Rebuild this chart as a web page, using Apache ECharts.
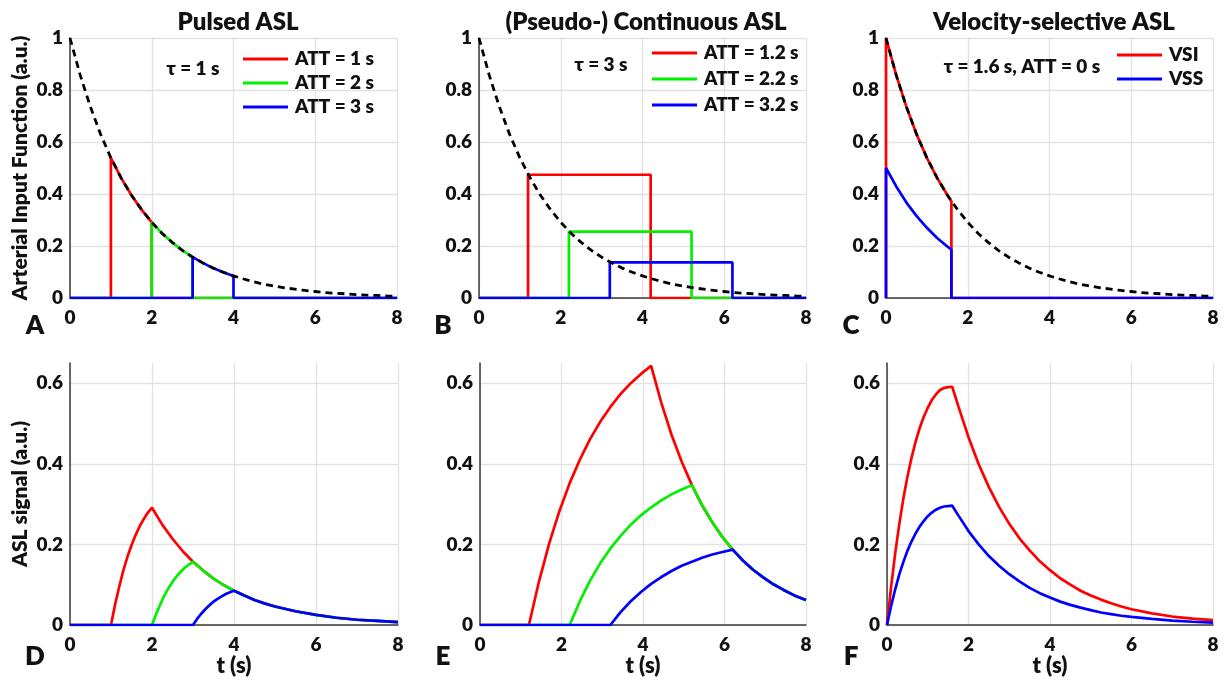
<!DOCTYPE html>
<html>
<head>
<meta charset="utf-8">
<script src="https://cdn.jsdelivr.net/npm/echarts@6/dist/echarts.min.js"></script>
<style>html,body{margin:0;padding:0;background:#fff}#c{width:1224px;height:682px}</style>
</head>
<body>
<div id="c"></div>
<script>
// ---- Data ----
const panelTitles = ['Pulsed ASL', '(Pseudo-) Continuous ASL', 'Velocity-selective ASL'];
const panelLetters = ['A', 'B', 'C', 'D', 'E', 'F'];
const xTicks = [0, 2, 4, 6, 8];
const legendPulsed = ['ATT = 1 s', 'ATT = 2 s', 'ATT = 3 s'];
const legendPcasl = ['ATT = 1.2 s', 'ATT = 2.2 s', 'ATT = 3.2 s'];
const legendVs = ['VSI', 'VSS'];
const notes = ['τ = 1 s', 'τ = 3 s', 'τ = 1.6 s, ATT = 0 s'];

// arterial input function (dashed black), t (s), value
const aifCurve = [[0,1],[0.25,0.857],[0.5,0.735],[0.75,0.629],[1,0.539],[1.25,0.462],[1.5,0.396],[1.75,0.340],[2,0.291],[2.25,0.249],[2.5,0.214],[2.75,0.183],[3,0.157],[3.25,0.135],[3.5,0.115],[3.75,0.099],[4,0.085],[4.25,0.073],[4.5,0.062],[4.75,0.053],[5,0.046],[5.25,0.039],[5.5,0.034],[5.75,0.029],[6,0.025],[6.25,0.021],[6.5,0.018],[6.75,0.016],[7,0.013],[7.25,0.011],[7.5,0.010],[7.75,0.008],[8,0.007]];

// top row: input functions
const pulsedAif1 = [[0,0],[1,0],[1,0.539],[1.25,0.462],[1.5,0.396],[1.75,0.340],[2,0.291],[2,0],[8,0]];
const pulsedAif2 = [[0,0],[2,0],[2,0.291],[2.25,0.249],[2.5,0.214],[2.75,0.183],[3,0.157],[3,0],[8,0]];
const pulsedAif3 = [[0,0],[3,0],[3,0.157],[3.25,0.135],[3.5,0.115],[3.75,0.099],[4,0.085],[4,0],[8,0]];
const pcaslAif1 = [[0,0],[1.2,0],[1.2,0.474],[4.2,0.474],[4.2,0],[8,0]];
const pcaslAif2 = [[0,0],[2.2,0],[2.2,0.255],[5.2,0.255],[5.2,0],[8,0]];
const pcaslAif3 = [[0,0],[3.2,0],[3.2,0.137],[6.2,0.137],[6.2,0],[8,0]];
const vsiAif = [[0,0],[0,1],[0.25,0.857],[0.5,0.735],[0.75,0.629],[1,0.539],[1.25,0.462],[1.5,0.396],[1.6,0.372],[1.6,0],[8,0]];
const vssAif = [[0,0],[0,0.5],[0.25,0.429],[0.5,0.367],[0.75,0.315],[1,0.270],[1.25,0.231],[1.5,0.198],[1.6,0.186],[1.6,0],[8,0]];

// bottom row: ASL signals
const pulsedSig1 = [[0,0],[1,0],[1.1,0.051],[1.2,0.095],[1.3,0.135],[1.4,0.169],[1.5,0.198],[1.6,0.223],[1.7,0.245],[1.8,0.263],[1.9,0.279],[2,0.291],[2.25,0.249],[2.5,0.214],[2.75,0.183],[3,0.157],[3.25,0.135],[3.5,0.115],[3.75,0.099],[4,0.085],[4.5,0.062],[5,0.046],[5.5,0.034],[6,0.025],[6.5,0.018],[7,0.013],[7.5,0.010],[8,0.007]];
const pulsedSig2 = [[0,0],[2,0],[2.1,0.027],[2.2,0.051],[2.3,0.073],[2.4,0.091],[2.5,0.107],[2.6,0.121],[2.7,0.132],[2.8,0.142],[2.9,0.150],[3,0.157],[3.25,0.135],[3.5,0.115],[3.75,0.099],[4,0.085],[4.5,0.062],[5,0.046],[5.5,0.034],[6,0.025],[6.5,0.018],[7,0.013],[7.5,0.010],[8,0.007]];
const pulsedSig3 = [[0,0],[3,0],[3.1,0.015],[3.2,0.028],[3.3,0.039],[3.4,0.049],[3.5,0.058],[3.6,0.065],[3.7,0.071],[3.8,0.077],[3.9,0.081],[4,0.085],[4.25,0.073],[4.5,0.062],[4.75,0.053],[5,0.046],[5.5,0.034],[6,0.025],[6.5,0.018],[7,0.013],[7.5,0.010],[8,0.007]];
const pcaslSig1 = [[0,0],[1.2,0],[1.45,0.109],[1.7,0.203],[1.95,0.283],[2.2,0.352],[2.45,0.410],[2.7,0.461],[2.95,0.504],[3.2,0.541],[3.45,0.573],[3.7,0.600],[3.95,0.623],[4.2,0.643],[4.45,0.551],[4.7,0.472],[4.95,0.405],[5.2,0.347],[5.45,0.297],[5.7,0.255],[5.95,0.218],[6.2,0.187],[6.45,0.160],[6.7,0.137],[6.95,0.118],[7.2,0.101],[7.45,0.087],[7.7,0.074],[7.95,0.064],[8,0.062]];
const pcaslSig2 = [[0,0],[2.2,0],[2.45,0.059],[2.7,0.110],[2.95,0.153],[3.2,0.190],[3.45,0.221],[3.7,0.249],[3.95,0.272],[4.2,0.292],[4.45,0.309],[4.7,0.324],[4.95,0.336],[5.2,0.347],[5.45,0.297],[5.7,0.255],[5.95,0.218],[6.2,0.187],[6.45,0.160],[6.7,0.137],[6.95,0.118],[7.2,0.101],[7.45,0.087],[7.7,0.074],[7.95,0.064],[8,0.062]];
const pcaslSig3 = [[0,0],[3.2,0],[3.45,0.032],[3.7,0.059],[3.95,0.082],[4.2,0.102],[4.45,0.119],[4.7,0.134],[4.95,0.147],[5.2,0.157],[5.45,0.167],[5.7,0.175],[5.95,0.181],[6.2,0.187],[6.45,0.160],[6.7,0.137],[6.95,0.118],[7.2,0.101],[7.45,0.087],[7.7,0.074],[7.95,0.064],[8,0.062]];
const vsiSig = [[0,0],[0.1,0.094],[0.2,0.177],[0.3,0.249],[0.4,0.313],[0.5,0.367],[0.6,0.414],[0.7,0.454],[0.8,0.488],[0.9,0.516],[1,0.539],[1.1,0.558],[1.2,0.572],[1.3,0.583],[1.4,0.588],[1.5,0.590],[1.6,0.591],[1.75,0.543],[2,0.466],[2.25,0.399],[2.5,0.342],[2.75,0.293],[3,0.251],[3.25,0.215],[3.5,0.185],[3.75,0.158],[4,0.136],[4.25,0.116],[4.5,0.100],[4.75,0.085],[5,0.073],[5.25,0.063],[5.5,0.054],[5.75,0.046],[6,0.039],[6.5,0.029],[7,0.021],[7.5,0.016],[8,0.012]];
const vssSig = [[0,0],[0.1,0.047],[0.2,0.088],[0.3,0.125],[0.4,0.156],[0.5,0.184],[0.6,0.207],[0.7,0.227],[0.8,0.244],[0.9,0.258],[1,0.270],[1.1,0.279],[1.2,0.286],[1.3,0.291],[1.4,0.294],[1.5,0.295],[1.6,0.296],[1.75,0.272],[2,0.233],[2.25,0.200],[2.5,0.171],[2.75,0.147],[3,0.126],[3.25,0.108],[3.5,0.092],[3.75,0.079],[4,0.068],[4.25,0.058],[4.5,0.050],[4.75,0.043],[5,0.037],[5.25,0.031],[5.5,0.027],[5.75,0.023],[6,0.020],[6.5,0.015],[7,0.011],[7.5,0.008],[8,0.006]];

// ---- Layout / style ----
const RED = '#ff0000', GREEN = '#00f000', BLUE = '#0000ff';
const FONT = 'Lato, "Open Sans", sans-serif';
const W = 800;
const gridBoxes = [
  {left: 70, top: 38, width: 327, height: 260},
  {left: 479, top: 38, width: 327, height: 260},
  {left: 886, top: 38, width: 327, height: 260},
  {left: 70, top: 363, width: 328, height: 262},
  {left: 480, top: 363, width: 326, height: 262},
  {left: 887, top: 363, width: 326, height: 262}
];
const gridColor = '#e2e2e2';
const axisColor = '#3a3a3a';

const xAxes = gridBoxes.map((g, i) => ({
  type: 'value', gridIndex: i, min: xTicks[0], max: xTicks[xTicks.length - 1], interval: 2,
  axisLine: {show: true, onZero: false, lineStyle: {color: axisColor, width: 1.5}},
  axisTick: {show: false},
  axisLabel: {color: '#111', fontFamily: FONT, fontWeight: W, fontSize: 19, margin: 10},
  splitLine: {show: true, lineStyle: {color: gridColor, width: 1.3}},
  name: i >= 3 ? 't (s)' : '', nameLocation: 'middle', nameGap: 29,
  nameTextStyle: {color: '#111', fontFamily: FONT, fontWeight: W, fontSize: 22}
}));
const yAxes = gridBoxes.map((g, i) => {
  const top = i < 3;
  return {
    type: 'value', gridIndex: i, min: 0, max: top ? 1 : 0.65, interval: 0.2,
    axisLine: {show: true, onZero: false, lineStyle: {color: axisColor, width: 1.5}},
    axisTick: {show: false},
    axisLabel: {color: '#111', fontFamily: FONT, fontWeight: W, fontSize: 19, margin: 7,
      formatter: v => (Math.abs(v - 0.65) < 1e-6 ? '' : String(Math.round(v * 10) / 10))},
    splitLine: {show: true, lineStyle: {color: top ? [gridColor] : [gridColor, gridColor, gridColor, gridColor, 'rgba(0,0,0,0)'], width: 1.3}},
    name: i === 0 ? 'Arterial Input Function (a.u.)' : (i === 3 ? 'ASL signal (a.u.)' : ''),
    nameLocation: 'middle', nameGap: 39,
    nameTextStyle: {color: '#111', fontFamily: FONT, fontWeight: W, fontSize: 21}
  };
});

function line(name, data, color, idx, extra) {
  return Object.assign({
    type: 'line', name, data, xAxisIndex: idx, yAxisIndex: idx,
    showSymbol: false, symbol: 'none', silent: true, animation: false,
    itemStyle: {color}, lineStyle: {color, width: 2.7}, z: 3
  }, extra || {});
}
const dashed = idx => line('AIF' + idx, aifCurve, '#000', idx, {lineStyle: {color: '#000', width: 2.8, type: [7, 5]}, z: 5});

const series = [
  line(legendPulsed[0], pulsedAif1, RED, 0), line(legendPulsed[1], pulsedAif2, GREEN, 0), line(legendPulsed[2], pulsedAif3, BLUE, 0), dashed(0),
  line(legendPcasl[0], pcaslAif1, RED, 1), line(legendPcasl[1], pcaslAif2, GREEN, 1), line(legendPcasl[2], pcaslAif3, BLUE, 1), dashed(1),
  line(legendVs[0], vsiAif, RED, 2), line(legendVs[1], vssAif, BLUE, 2), dashed(2),
  line('D1', pulsedSig1, RED, 3), line('D2', pulsedSig2, GREEN, 3), line('D3', pulsedSig3, BLUE, 3),
  line('E1', pcaslSig1, RED, 4), line('E2', pcaslSig2, GREEN, 4), line('E3', pcaslSig3, BLUE, 4),
  line('F1', vsiSig, RED, 5), line('F2', vssSig, BLUE, 5)
];

function legend(data, left, top, gap) {
  return {
    data, orient: 'vertical', left, top, itemWidth: 45, itemHeight: 3, itemGap: gap, icon: 'rect',
    padding: 0, selectedMode: false,
    textStyle: {color: '#111', fontFamily: FONT, fontWeight: W, fontSize: 19, lineHeight: 20, padding: [0, 0, 0, 2]}
  };
}

function txt(text, x, y, size) {
  return {type: 'text', x, y, silent: true, z: 10,
    style: {text, fill: '#111', font: W + ' ' + size + 'px ' + FONT, align: 'center', verticalAlign: 'middle'}};
}
const titleCenters = [238, 646, 1054];
const letterPos = [[35, 326], [443, 326], [851, 326], [35, 657], [443, 657], [851, 657]];
const notePos = [[193, 69], [601, 65], [1022, 67]];
const graphics = [];
panelTitles.forEach((t, i) => graphics.push(txt(t, titleCenters[i], 22, 24)));
panelLetters.forEach((t, i) => graphics.push(txt(t, letterPos[i][0], letterPos[i][1], 26)));
notes.forEach((t, i) => graphics.push(txt(t, notePos[i][0], notePos[i][1], 19)));

const chart = echarts.init(document.getElementById('c'), null, {renderer: 'canvas'});
chart.setOption({
  animation: false,
  backgroundColor: '#ffffff',
  grid: gridBoxes,
  xAxis: xAxes,
  yAxis: yAxes,
  legend: [legend(legendPulsed, 243, 49, 4), legend(legendPcasl, 652, 43, 6), legend(legendVs, 1117, 45, 4)],
  series,
  graphic: graphics
});
</script>
</body>
</html>
